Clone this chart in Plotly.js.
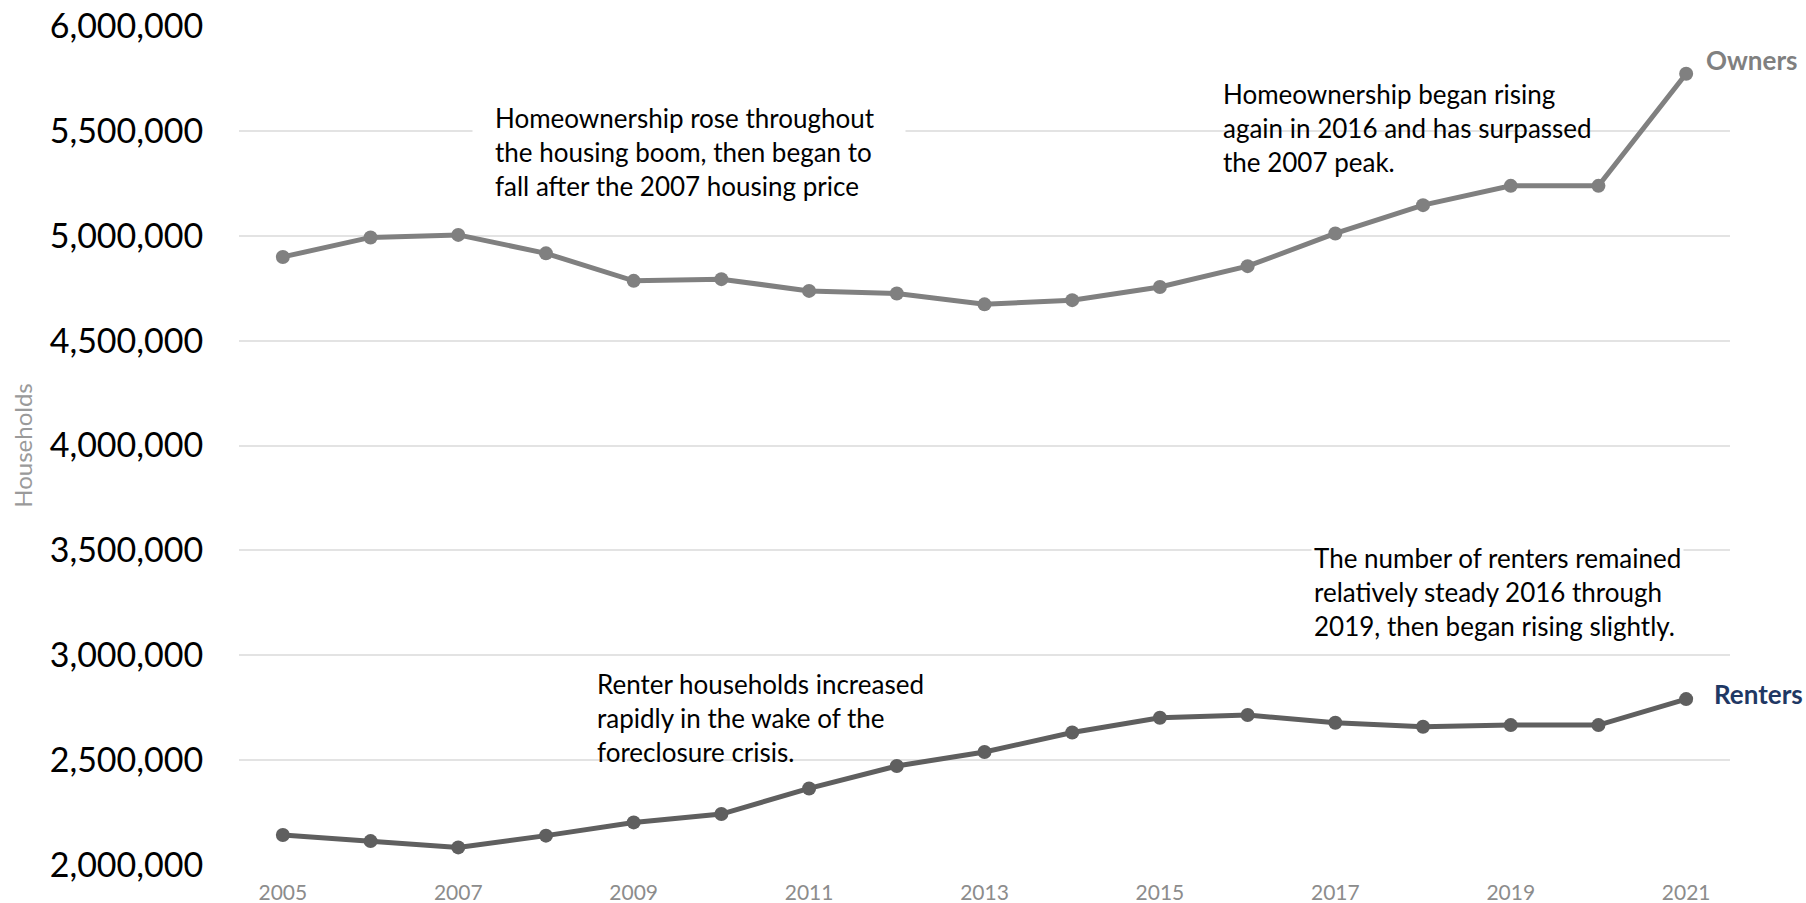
<!DOCTYPE html>
<html>
<head>
<meta charset="utf-8">
<script src="https://cdn.plot.ly/plotly-3.0.1.min.js"></script>
<style>
  html, body { margin: 0; padding: 0; background: #ffffff; }
  #chart { width: 1806px; height: 903px; }
</style>
</head>
<body>
<div id="chart"></div>
<script>
const years = [2005, 2006, 2007, 2008, 2009, 2010, 2011, 2012, 2013, 2014, 2015, 2016, 2017, 2018, 2019, 2020, 2021];
const owners = [4899000, 4992000, 5004000, 4916000, 4785000, 4793000, 4737000, 4725000, 4673000, 4693000, 4756000, 4855000, 5011000, 5146000, 5238000, 5238000, 5772000];
const renters = [2143000, 2114000, 2084000, 2140000, 2203000, 2243000, 2365000, 2472000, 2539000, 2632000, 2702000, 2715000, 2678000, 2659000, 2667000, 2667000, 2791000];
const yTicks = [2000000, 2500000, 3000000, 3500000, 4000000, 4500000, 5000000, 5500000, 6000000];
const xTicks = [2005, 2007, 2009, 2011, 2013, 2015, 2017, 2019, 2021];
const seriesNames = ['Owners', 'Renters'];
const notes = [
  'Homeownership rose throughout<br>the housing boom, then began to<br>fall after the 2007 housing price',
  'Homeownership began rising<br>again in 2016 and has surpassed<br>the 2007 peak.',
  'Renter households increased<br>rapidly in the wake of the<br>foreclosure crisis.',
  'The number of renters remained<br>relatively steady 2016 through<br>2019, then began rising slightly.'
];

const FONT = 'Lato, "Open Sans", sans-serif';
const ownerColor = '#808080';
const renterColor = '#5f5f5f';
const last = years.length - 1;

const traces = [
  {
    x: years, y: owners, name: seriesNames[0], type: 'scatter', mode: 'lines+markers',
    line: { color: ownerColor, width: 5 },
    marker: { color: ownerColor, size: 14 },
    hoverinfo: 'x+y'
  },
  {
    x: years, y: renters, name: seriesNames[1], type: 'scatter', mode: 'lines+markers',
    line: { color: renterColor, width: 5 },
    marker: { color: renterColor, size: 14 },
    hoverinfo: 'x+y'
  }
];

const noteFont = { family: FONT, size: 26, color: '#000000' };

const layout = {
  width: 1806, height: 903,
  paper_bgcolor: '#ffffff', plot_bgcolor: '#ffffff',
  showlegend: false,
  margin: { l: 239, r: 76, t: 26, b: 38 },
  xaxis: {
    range: [2004.5, 2021.5],
    tickvals: xTicks,
    ticktext: xTicks.map(String),
    showgrid: false, zeroline: false, showline: false,
    ticks: 'outside', ticklen: 9, tickcolor: 'rgba(0,0,0,0)',
    tickfont: { family: FONT, size: 21, color: '#8c8c8c' }
  },
  yaxis: {
    range: [2000000, 6000000],
    tickvals: yTicks,
    tickformat: ',d',
    showgrid: true, gridcolor: '#e3e3e3', gridwidth: 1.5,
    zeroline: false, showline: false,
    ticks: 'outside', ticklen: 28, tickcolor: 'rgba(0,0,0,0)',
    tickfont: { family: FONT, size: 34, color: '#000000' },
    title: { text: 'Households', font: { family: FONT, size: 24, color: '#9a9a9a' }, standoff: 10 }
  },
  annotations: [
    {
      xref: 'paper', yref: 'paper', x: 0.1563, y: 0.8504, xanchor: 'left', yanchor: 'middle',
      text: notes[0], align: 'left', showarrow: false, font: noteFont,
      bgcolor: '#ffffff', borderpad: 22, width: 388
    },
    {
      xref: 'paper', yref: 'paper', x: 0.6593, y: 0.878, xanchor: 'left', yanchor: 'middle',
      text: notes[1], align: 'left', showarrow: false, font: noteFont, borderpad: 0
    },
    {
      xref: 'paper', yref: 'paper', x: 0.2392, y: 0.1749, xanchor: 'left', yanchor: 'middle',
      text: notes[2], align: 'left', showarrow: false, font: noteFont, borderpad: 0
    },
    {
      xref: 'paper', yref: 'paper', x: 0.719, y: 0.3248, xanchor: 'left', yanchor: 'middle',
      text: notes[3], align: 'left', showarrow: false, font: noteFont,
      bgcolor: '#ffffff', borderpad: 2
    },
    {
      xref: 'x', yref: 'y', x: years[last], y: owners[last], xanchor: 'left', yanchor: 'middle',
      xshift: 18, yshift: 14,
      text: '<b>' + seriesNames[0] + '</b>', showarrow: false,
      font: { family: FONT, size: 26, color: ownerColor }
    },
    {
      xref: 'x', yref: 'y', x: years[last], y: renters[last], xanchor: 'left', yanchor: 'middle',
      xshift: 26, yshift: 5,
      text: '<b>' + seriesNames[1] + '</b>', showarrow: false,
      font: { family: FONT, size: 26, color: '#1f3864' }
    }
  ]
};

Plotly.newPlot('chart', traces, layout, { displayModeBar: false, responsive: false });
</script>
</body>
</html>
